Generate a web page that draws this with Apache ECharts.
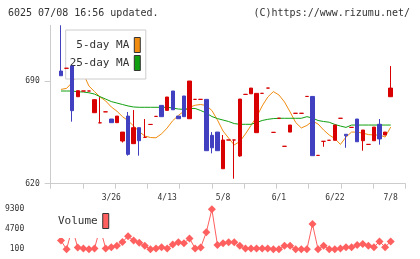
<!DOCTYPE html>
<html>
<head>
<meta charset="utf-8">
<script src="https://cdn.jsdelivr.net/npm/echarts@6/dist/echarts.min.js"></script>
<style>
  html, body { margin: 0; padding: 0; background: #fff; }
  #chart { width: 420px; height: 259px; }
</style>
</head>
<body>
<div id="chart"></div>
<script>
// 日付（取引のあった日のみ）
var dates = ['3/10','3/11','3/12','3/13','3/16','3/17','3/18','3/19','3/24','3/26',
  '3/27','3/30','3/31','4/1','4/2','4/3','4/7','4/8','4/10','4/13',
  '4/14','4/15','4/17','4/20','4/21','4/23','4/24','4/27','5/7','5/8',
  '5/11','5/12','5/13','5/14','5/15','5/19','5/21','5/26','5/28','6/1',
  '6/2','6/3','6/5','6/8','6/9','6/10','6/12','6/16','6/18','6/22',
  '6/23','6/24','6/25','6/26','6/29','6/30','7/1','7/2','7/6','7/8'];

// [open, close, low, high]
var candles = [
  [696.8,693.6,693.6,728], [698.7,698.7,698.7,698.7], [700.2,669.8,662.3,700.2], [679.3,683.4,679.3,683.4],
  [683.2,683.2,683.2,683.2], [683.2,683.2,683.2,683.2], [668.4,677.3,668.4,677.3], [661.5,661.5,661.5,679.0],
  [669.0,669.0,669.0,669.0], [664.1,661.6,661.6,664.1], [661.6,666.1,661.6,666.1], [649.1,655.2,648.1,655.2],
  [666.1,640.0,639.1,668.9], [647.3,658.2,647.3,670.2], [658.2,649.3,639.1,658.2], [651.6,651.6,651.6,664.1],
  [660.4,660.4,660.4,660.4], [665.9,665.9,665.9,665.9], [673.4,665.7,665.7,673.4], [670.0,679.1,670.0,679.1],
  [683.2,670.4,670.4,683.2], [666.1,664.3,664.3,666.1], [679.8,665.7,665.7,679.8], [664.3,690.0,664.3,690.0],
  [677.5,677.5,677.5,677.5], [677.5,677.5,677.5,677.5], [677.5,642.5,642.5,677.5], [653.0,644.5,640.7,655.2],
  [655.2,642.5,642.5,655.2], [630.2,649.8,630.2,653.2], [649.8,649.8,649.8,649.8], [649.8,649.8,623.4,649.8],
  [638.9,677.7,638.4,677.7], [680.9,680.9,680.9,680.9], [681.3,685.2,681.3,685.2], [654.8,681.6,654.8,681.6],
  [681.6,681.6,681.6,681.6], [685.2,685.2,685.2,685.2], [655.0,655.0,655.0,655.0], [664.6,664.6,664.6,664.6],
  [645.5,645.5,645.5,645.5], [655.2,660.0,655.2,660.0], [668.0,668.0,668.0,668.0], [668.0,668.0,668.0,668.0],
  [679.5,679.5,679.5,679.5], [679.5,639.1,639.1,679.5], [639.3,639.3,639.3,639.3], [648.9,648.9,645.2,648.9],
  [649.6,649.6,649.6,649.6], [649.6,660.0,649.6,660.0], [664.6,664.6,664.6,664.6], [653.7,652.7,644.5,653.7],
  [658.4,658.4,658.4,658.4], [664.1,648.6,648.6,664.1], [649.3,656.6,642.5,656.6], [646.8,646.8,646.8,646.8],
  [649.3,658.6,649.3,658.6], [660.5,650.5,646.6,664.1], [653.2,655.2,653.2,655.2], [679.3,685.2,679.3,700.2]
];

var ma5 = [684.3, 685.0, 689.0, 695.0, 695.0, 686.6, 682.8, 679.1, 676.4, 672.3,
  669.5, 665.7, 663.0, 659.3, 655.5, 652.5, 651.5, 651.3, 654.0, 658.0,
  663.0, 666.5, 669.5, 672.1, 673.5, 674.0, 673.3, 669.9, 663.4, 655.9,
  651.1, 646.4, 648.8, 653.9, 659.7, 665.5, 673.0, 679.1, 682.8, 680.5,
  675.7, 668.9, 661.7, 658.0, 659.7, 662.7, 660.7, 656.6, 653.2, 650.8,
  646.8, 651.8, 655.2, 655.2, 654.5, 653.5, 653.2, 653.2, 651.8, 658.6];

var ma25 = [683.2, 683.2, 683.2, 682.7, 682.5, 682.0, 681.1, 679.3, 677.7, 676.0,
  675.0, 674.0, 673.0, 672.3, 672.1, 672.1, 672.1, 672.1, 672.1, 672.1,
  671.6, 670.9, 670.7, 671.3, 671.3, 669.9, 668.2, 665.8, 664.4, 663.4,
  662.4, 661.0, 660.5, 660.5, 660.5, 661.7, 663.1, 663.9, 664.4, 664.6,
  664.6, 664.6, 664.6, 664.6, 665.7, 664.8, 663.1, 662.4, 661.9, 660.4,
  659.3, 658.4, 660.0, 660.0, 660.0, 660.0, 660.0, 660.0, 660.0, 660.0];

var volume = [2100, 100, 5000, 500, 300, 100, 300, 5000, 300, 600,
  900, 1800, 3100, 2100, 1600, 900, 100, 300, 600, 300,
  1200, 1700, 1500, 2600, 300, 500, 4000, 9300, 1100, 1500,
  1700, 1700, 900, 300, 300, 300, 300, 300, 100, 100,
  900, 900, 100, 100, 100, 5900, 100, 900, 100, 100,
  300, 600, 600, 1100, 1300, 900, 600, 1900, 600, 1900];

var priceTicks = [620, 690];
var volumeTicks = [100, 4700, 9300];
var frameTicks = [0, 1, 2, 3, 4, 5, 6, 7, 8, 9, 10, 11];
var dateLabelIndex = [9, 19, 29, 39, 49, 59];

var UP = '#d80000';
var DOWN = '#4040c0';
var VOL = '#ff5f5f';
var MONO = '"DejaVu Sans Mono", monospace';
var AXIS = '#cccccc';

// 寄引同値は陽線色で描く
var candleData = candles.map(function (c) {
  if (c[0] === c[1]) {
    return { value: c, itemStyle: { color0: UP, borderColor0: UP } };
  }
  return c;
});

function plain(v) {
  return String(v);
}

var chart = echarts.init(document.getElementById('chart'), null, { renderer: 'canvas' });

chart.setOption({
  animation: false,
  backgroundColor: '#fff',
  graphic: [
    { type: 'text', left: 8, top: 8,
      style: { text: '6025 07/08 16:56 updated.', font: '10px ' + MONO, fill: '#333' } },
    { type: 'text', right: 10, top: 8,
      style: { text: '(C)https://www.rizumu.net/', font: '10px ' + MONO, fill: '#333' } }
  ],
  legend: [
    {
      data: ['5-day MA', '25-day MA'],
      orient: 'vertical', align: 'right',
      left: 65.7, top: 30,
      padding: [7, 5, 8, 4],
      itemGap: 2, itemWidth: 6, itemHeight: 15,
      icon: 'rect',
      backgroundColor: '#fff', borderColor: '#cccccc', borderWidth: 1,
      itemStyle: { borderColor: '#333', borderWidth: 1 },
      textStyle: { fontFamily: MONO, fontSize: 11, color: '#333' },
      selectedMode: false,
      z: 2
    },
    {
      data: ['Volume'],
      align: 'right',
      left: 53, top: 207,
      padding: [6, 5, 9, 5],
      itemWidth: 6, itemHeight: 15,
      icon: 'rect',
      backgroundColor: '#fff',
      itemStyle: { borderColor: '#333', borderWidth: 1 },
      textStyle: { fontFamily: MONO, fontSize: 11, color: '#333' },
      selectedMode: false,
      z: 5
    }
  ],
  grid: [
    { left: 50.7, top: 25.3, width: 354.6, height: 158.4 },
    { left: 58.2, top: 25.3, width: 335.3, height: 158.4 },
    { left: 58.2, top: 209.3, width: 335.3, height: 40 }
  ],
  xAxis: [
    {
      gridIndex: 0, type: 'value', min: 0, max: 11,
      axisLine: { lineStyle: { color: AXIS } },
      axisTick: { customValues: frameTicks, length: 5, lineStyle: { color: AXIS } },
      axisLabel: { show: false },
      splitLine: { show: false }
    },
    {
      gridIndex: 1, type: 'category', data: dates, boundaryGap: true,
      axisLine: { show: false },
      axisTick: { show: false },
      axisLabel: {
        interval: function (index) { return dateLabelIndex.indexOf(index) >= 0; },
        margin: 10, fontFamily: MONO, fontSize: 8, color: '#333'
      }
    },
    {
      gridIndex: 2, type: 'category', data: dates, boundaryGap: true,
      show: false
    }
  ],
  yAxis: [
    {
      gridIndex: 0, type: 'value', min: 620, max: 728,
      axisLine: { show: true, lineStyle: { color: AXIS } },
      axisTick: { show: true, customValues: priceTicks, length: 6, lineStyle: { color: AXIS } },
      axisLabel: { customValues: priceTicks, formatter: plain, margin: 11, fontFamily: MONO, fontSize: 8, color: '#333' },
      splitLine: { show: false }
    },
    {
      gridIndex: 1, type: 'value', min: 620, max: 728, show: false
    },
    {
      gridIndex: 2, type: 'value', min: 100, max: 9300,
      axisLine: { show: false },
      axisTick: { show: false },
      axisLabel: { customValues: volumeTicks, formatter: plain, margin: 34, fontFamily: MONO, fontSize: 8, color: '#333' },
      splitLine: { show: false }
    }
  ],
  series: [
    {
      name: '5-day MA', type: 'line', xAxisIndex: 1, yAxisIndex: 1,
      data: ma5, symbol: 'none', color: '#f08c10',
      lineStyle: { width: 1, color: '#f08c10' }, z: 1
    },
    {
      name: '25-day MA', type: 'line', xAxisIndex: 1, yAxisIndex: 1,
      data: ma25, symbol: 'none', color: '#10a010',
      lineStyle: { width: 1, color: '#10a010' }, z: 1
    },
    {
      name: 'price', type: 'candlestick', xAxisIndex: 1, yAxisIndex: 1,
      data: candleData, barWidth: 4,
      itemStyle: { color: UP, color0: DOWN, borderColor: UP, borderColor0: DOWN, borderWidth: 1 },
      z: 3
    },
    {
      name: 'Volume', type: 'line', xAxisIndex: 2, yAxisIndex: 2,
      data: volume, color: VOL,
      symbol: 'diamond', symbolSize: 8, showAllSymbol: true,
      itemStyle: { color: VOL },
      lineStyle: { width: 1, color: VOL }, z: 2
    }
  ]
});
</script>
</body>
</html>
